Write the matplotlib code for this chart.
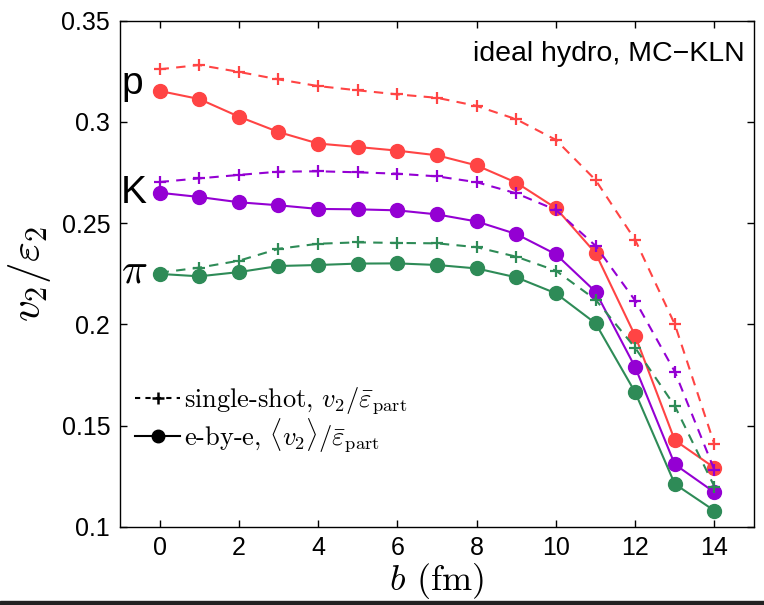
import matplotlib
matplotlib.use("Agg")
import matplotlib.pyplot as plt
from matplotlib.lines import Line2D
from matplotlib.patches import Rectangle
import numpy as np

plt.rcParams["font.family"] = ["Liberation Sans", "DejaVu Sans"]
plt.rcParams["mathtext.fontset"] = "cm"

# impact parameter b (fm)
b = np.arange(0, 15)

# single-shot, v2 / eps_part
p_single = [0.3260, 0.3281, 0.3247, 0.3210, 0.3177, 0.3156, 0.3136, 0.3119,
            0.3079, 0.3013, 0.2911, 0.2713, 0.2417, 0.2000, 0.1407]
k_single = [0.2703, 0.2721, 0.2738, 0.2754, 0.2756, 0.2751, 0.2744, 0.2731,
            0.2702, 0.2647, 0.2565, 0.2388, 0.2117, 0.1766, 0.1280]
pi_single = [0.2255, 0.2280, 0.2314, 0.2373, 0.2398, 0.2405, 0.2402, 0.2400,
             0.2381, 0.2334, 0.2265, 0.2122, 0.1884, 0.1596, 0.1198]

# e-by-e, <v2> / eps_part
p_ebye = [0.3153, 0.3113, 0.3026, 0.2950, 0.2893, 0.2876, 0.2858, 0.2835,
          0.2785, 0.2700, 0.2574, 0.2352, 0.1943, 0.1427, 0.1291]
k_ebye = [0.2650, 0.2629, 0.2603, 0.2588, 0.2570, 0.2568, 0.2563, 0.2543,
          0.2508, 0.2446, 0.2346, 0.2161, 0.1788, 0.1308, 0.1170]
pi_ebye = [0.2249, 0.2237, 0.2258, 0.2288, 0.2293, 0.2300, 0.2301, 0.2293,
           0.2276, 0.2232, 0.2153, 0.2005, 0.1664, 0.1211, 0.1079]

colors = ["#ff4444", "#9400d3", "#2e8b57"]
single = [p_single, k_single, pi_single]
ebye = [p_ebye, k_ebye, pi_ebye]

fig = plt.figure(figsize=(7.64, 6.05), dpi=100)
ax = fig.add_axes([0.157, 0.1294, 0.83, 0.8364])

for col, ys, ye in zip(colors, single, ebye):
    ax.plot(b, ys, color=col, lw=1.5, ls=(0, (4.5, 3.5)), marker="+",
            ms=9, mew=1.6)
    ax.plot(b, ye, color=col, lw=1.5, ls="-", marker="o", ms=10)

# species labels
ax.text(-0.97, 0.3138, "p", fontsize=28, ha="left", va="baseline")
ax.text(-0.99, 0.2599, "K", fontsize=28, ha="left", va="baseline")
ax.text(-0.97, 0.2209, r"$\pi$", fontsize=31, ha="left", va="baseline")

ax.text(0.986, 0.920, "ideal hydro, MC\u2212KLN", fontsize=20.5,
        ha="right", va="baseline", transform=ax.transAxes)

ax.set_xlim(-1, 15)
ax.set_ylim(0.1, 0.35)
ax.set_xticks(np.arange(0, 15, 2))
ax.set_yticks([0.1, 0.15, 0.2, 0.25, 0.3, 0.35])
ax.set_yticklabels(["0.1", "0.15", "0.2", "0.25", "0.3", "0.35"])
ax.tick_params(direction="in", length=5, width=1, top=True, right=True,
               labelsize=18, pad=7)
for s in ax.spines.values():
    s.set_linewidth(1.0)

ax.set_xlabel(r"$b$ (fm)", fontsize=26, family="cmr10")
ax.xaxis.set_label_coords(0.5, -0.068)
ax.set_ylabel(r"$v_2/\varepsilon_2$", fontsize=31)
ax.yaxis.set_label_coords(-0.105, 0.5)

handles = [
    Line2D([], [], color="k", lw=1.5, ls=(0, (2.5, 2.5)), marker="+", ms=8, mew=1.8),
    Line2D([], [], color="k", lw=1.5, ls="-", marker="o", ms=9),
]
labels = [r"single-shot, $v_2/\bar{\varepsilon}_{\rm part}$",
          r"e-by-e, $\langle v_2\rangle/\bar{\varepsilon}_{\rm part}$"]
ax.legend(handles, labels, loc="center left", bbox_to_anchor=(0.012, 0.211),
          frameon=False, handlelength=1.7, handletextpad=0.12,
          borderaxespad=0.0, borderpad=0.3, labelspacing=0.0,
          prop={"family": "cmr10", "size": 19})

# dark strip at the bottom of the screenshot
fig.patches.append(Rectangle((0, 0), 1, 4 / 605, transform=fig.transFigure,
                             color="#222222", zorder=10))

fig.savefig("out.png", dpi=100)
